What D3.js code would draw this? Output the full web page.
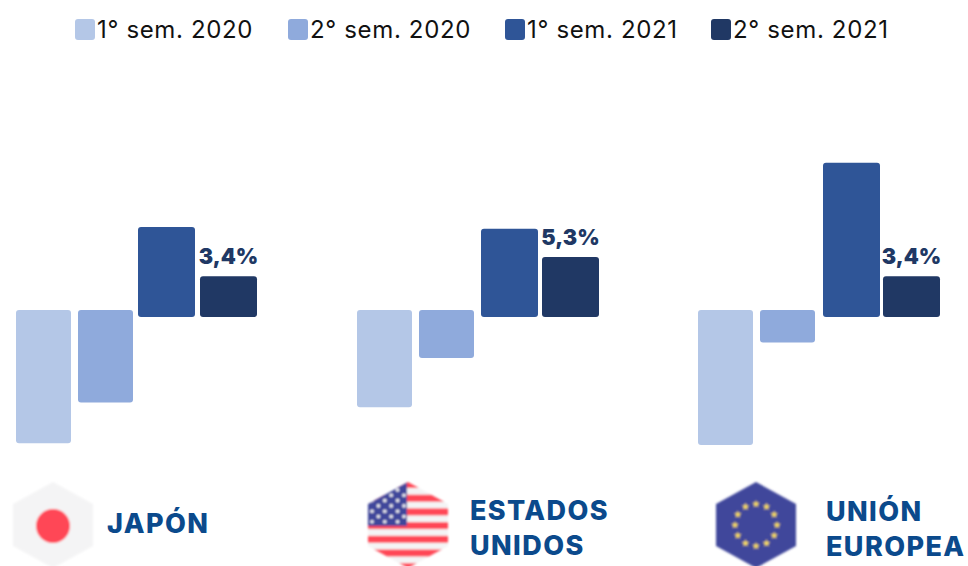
<!DOCTYPE html>
<html lang="es">
<head>
<meta charset="utf-8">
<script src="https://d3js.org/d3.v7.min.js"></script>
<style>
  html, body { margin: 0; background: #fff; }
  text { font-family: Inter, "Open Sans", sans-serif; }
  .legend-label { font-size: 24px; font-weight: 400; fill: #111; letter-spacing: 0.65px; }
  .value-label { font-size: 21.5px; font-weight: 900; fill: #203864; text-anchor: middle; }
  .country-label { font-size: 27px; font-weight: 800; fill: #0b4a8c; letter-spacing: 1.4px; }
</style>
</head>
<body>
<script>
  var semesters = ["1° sem. 2020", "2° sem. 2020", "1° sem. 2021", "2° sem. 2021"];
  var colors = ["#b4c7e7", "#8faadc", "#2f5597", "#203864"];
  var countries = ["JAPÓN", "ESTADOS UNIDOS", "UNIÓN EUROPEA"];

  // one value per semester
  var japon = [-11.1, -7.7, 7.5, 3.4];
  var estadosUnidos = [-8.1, -4.0, 7.35, 5.0];
  var unionEuropea = [-11.25, -2.7, 12.85, 3.4];
  var series = [japon, estadosUnidos, unionEuropea];

  // only the last semester is labelled
  var lastLabels = ["3,4%", "5,3%", "3,4%"];

  var width = 968, height = 566;

  var svg = d3.select("body").append("svg")
      .attr("width", width)
      .attr("height", height)
      .style("display", "block");

  var defs = svg.append("defs");
  defs.append("filter").attr("id", "soft")
    .append("feGaussianBlur").attr("stdDeviation", 0.9);

  // positive and negative bars hang off slightly different baselines
  var yPos = d3.scaleLinear().domain([0, 13]).range([317, 161]);
  var yNeg = d3.scaleLinear().domain([-12, 0]).range([454, 310]);

  var xCountry = d3.scalePoint().domain(countries).range([16, 698]);
  var barWidth = d3.scaleOrdinal().domain(semesters).range([55, 55, 57, 57]);
  var color = d3.scaleOrdinal().domain(semesters).range(colors);

  // bar spacing is not quite the same in each group
  var xBars = countries.map(function(c, i) {
    return d3.scaleOrdinal().domain(semesters).range([[0, 62, 122, 184], [0, 62, 124, 185], [0, 62, 125, 185]][i]);
  });

  // legend
  var legendX = d3.scaleOrdinal().domain(semesters).range([75, 288, 505, 711]);

  var legend = svg.append("g").selectAll("g")
      .data(semesters)
      .enter().append("g")
      .attr("transform", d => "translate(" + [legendX(d), 19] + ")");

  legend.append("rect")
      .attr("width", 20)
      .attr("height", 21)
      .attr("rx", 3)
      .attr("fill", d => color(d));

  legend.append("text")
      .attr("class", "legend-label")
      .attr("x", 22)
      .attr("y", 19)
      .text(d => d);

  // bars
  var groups = svg.append("g").selectAll("g")
      .data(countries)
      .enter().append("g")
      .attr("transform", d => "translate(" + [xCountry(d), 0] + ")");

  groups.selectAll("rect")
      .data((d, i) => series[i].map((v, j) => ({ semester: semesters[j], value: v, x: xBars[i] })))
      .enter().append("rect")
      .attr("x", d => d.x(d.semester))
      .attr("width", d => barWidth(d.semester))
      .attr("y", d => d.value > 0 ? yPos(d.value) : yNeg(0))
      .attr("height", d => d.value > 0 ? yPos(0) - yPos(d.value) : yNeg(d.value) - yNeg(0))
      .attr("rx", 3)
      .attr("fill", d => color(d.semester));

  groups.append("text")
      .attr("class", "value-label")
      .attr("x", (d, i) => xBars[i](semesters[3]) + barWidth(semesters[3]) / 2)
      .attr("y", (d, i) => yPos(series[i][3]) - 12)
      .text((d, i) => lastLabels[i]);

  // flags
  var hexLine = d3.line().curve(d3.curveLinearClosed);
  var hexagon = [[0, -43], [40, -21], [40, 21], [0, 43], [-40, 21], [-40, -21]];
  var flagX = d3.scaleOrdinal().domain(countries).range([53, 408, 756]);

  defs.append("clipPath").attr("id", "hex")
    .append("path").attr("d", hexLine(hexagon));

  var flags = svg.append("g").selectAll("g")
      .data(countries)
      .enter().append("g")
      .attr("transform", d => "translate(" + [flagX(d), 525] + ")")
      .attr("filter", "url(#soft)")
    .append("g")
      .attr("clip-path", "url(#hex)");

  var japanFlag = flags.filter((d, i) => i == 0);
  japanFlag.append("rect")
      .attr("x", -40).attr("y", -43).attr("width", 80).attr("height", 86)
      .attr("fill", "#f4f4f5");
  japanFlag.append("circle")
      .attr("r", 17).attr("cy", 1)
      .attr("fill", "#ff4757");

  var usFlag = flags.filter((d, i) => i == 1);
  usFlag.append("rect")
      .attr("x", -40).attr("y", -43).attr("width", 80).attr("height", 86)
      .attr("fill", "#f4f4f5");
  usFlag.selectAll(".stripe")
      .data(d3.range(7))
      .enter().append("rect")
      .attr("class", "stripe")
      .attr("x", -40).attr("width", 80)
      .attr("y", d => -44 + d * 13.7)
      .attr("height", 7)
      .attr("fill", "#ff4757");
  usFlag.append("rect")
      .attr("x", -40).attr("y", -43).attr("width", 39).attr("height", 44)
      .attr("fill", "#41479b");
  usFlag.selectAll(".star")
      .data(d3.cross(d3.range(7), d3.range(6)).filter(d => (d[0] + d[1]) % 2 == 0))
      .enter().append("circle")
      .attr("class", "star")
      .attr("cx", d => -36 + d[1] * 6.4)
      .attr("cy", d => -35 + d[0] * 5.3)
      .attr("r", 1.8)
      .attr("fill", "#f4f4f5");

  var euFlag = flags.filter((d, i) => i == 2);
  euFlag.append("rect")
      .attr("x", -40).attr("y", -43).attr("width", 80).attr("height", 86)
      .attr("fill", "#41479b");
  euFlag.selectAll("path")
      .data(d3.range(12))
      .enter().append("path")
      .attr("d", d3.symbol(d3.symbolStar, 18))
      .attr("transform", d => "translate(" + [
        21 * Math.sin(d * Math.PI / 6),
        -21 * Math.cos(d * Math.PI / 6)
      ] + ")")
      .attr("fill", "#ffe15a");

  // country names
  var nameX = d3.scaleOrdinal().domain(countries).range([107, 470, 826]);
  var nameY = d3.scaleOrdinal().domain(countries).range([533, 520, 521]);

  svg.append("g").selectAll("text")
      .data(countries)
      .enter().append("text")
      .attr("class", "country-label")
      .attr("y", d => nameY(d))
      .selectAll("tspan")
      .data(d => d.split(" ").map(w => ({ word: w, country: d })))
      .enter().append("tspan")
      .attr("x", d => nameX(d.country))
      .attr("dy", (d, i) => i ? 35 : 0)
      .text(d => d.word);
</script>
</body>
</html>
